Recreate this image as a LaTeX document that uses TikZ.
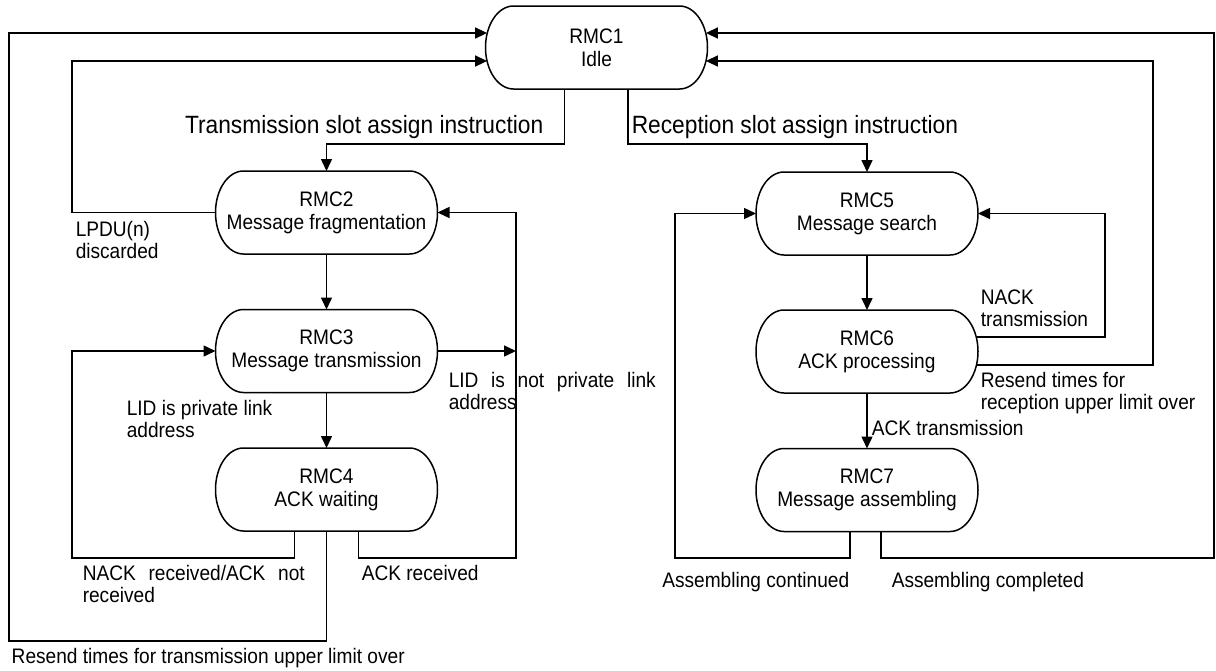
\documentclass[tikz,border=0pt]{standalone}
\usepackage{fontspec}
\setmainfont{Liberation Sans}[FakeStretch=0.91]
\usetikzlibrary{arrows.meta}

\begin{document}
\begin{tikzpicture}[x=0.5pt, y=-0.5pt, line width=0.75pt,
  font=\fontsize{10.5}{11}\selectfont,
  >={Triangle[length=6pt, width=5.5pt]},
  state/.style={minimum width=111pt, minimum height=41.5pt, inner sep=0pt,
    outer sep=0pt, align=center, font=\fontsize{10.5}{11.5}\selectfont},
  lab/.style={inner sep=0pt, align=left},
  big/.style={inner sep=0pt, font=\fontsize{12.5}{14}\selectfont}]

  \useasboundingbox (0,0) rectangle (1216,670);

  % States
  \node[state] (r1) at (596.5,47.5) {RMC1\\Idle};
  \node[state] (r2) at (326.5,212.5) {RMC2\\Message fragmentation};
  \node[state] (r3) at (326.5,351) {RMC3\\Message transmission};
  \node[state] (r4) at (326.5,489.5) {RMC4\\ACK waiting};
  \node[state] (r5) at (867,213.5) {RMC5\\Message search};
  \node[state] (r6) at (867,351.5) {RMC6\\ACK processing};
  \node[state] (r7) at (867,490) {RMC7\\Message assembling};

  % Outlines: flat top and bottom, curved sides
  \foreach \n in {r1,r2,r3,r4,r5,r6,r7}{
    \draw ([xshift=14pt]\n.north west) -- ([xshift=-14pt]\n.north east)
      arc[start angle=90, end angle=-90, x radius=14pt, y radius=20.75pt]
      -- ([xshift=14pt]\n.south west)
      arc[start angle=270, end angle=90, x radius=14pt, y radius=20.75pt]
      -- cycle;
  }

  % Slot assign instructions
  \draw[->] ([xshift=-16pt]r1.south) -- ++(0,55) -| (r2.north);
  \node[big, anchor=base east] (tsa) at (544,133)
    {Transmission slot assign instruction};
  \draw[->] ([xshift=15.75pt]r1.south) -- ++(0,55) -| (r5.north);
  \node[big, anchor=base west] (rsa) at (631,133)
    {Reception slot assign instruction};

  % Transmission side
  \draw[->] (r2.south) -- (r3.north);
  \draw[->] (r3.south) -- (r4.north);
  \draw[->] (r2.west) -| (72,150) |- ([xshift=0.8pt, yshift=-6.75pt]r1.west);
  \node[lab, anchor=base west] (lpdu) at (75,258) {LPDU(n)\\discarded};
  \draw[->] ([xshift=-16pt]r4.south) |- (72,558) |- (r3.west);
  \draw[->] ([xshift=16pt]r4.south) |- (516,558) |- (r2.east);
  \draw[->] (r3.east) -- (516,351);
  \draw[->] (r4.south) |- (9,641) |- ([xshift=0.8pt, yshift=7.25pt]r1.west);
  \node[lab, anchor=base west] (lidp) at (126,437) {LID is private link\\address};
  \node[lab, anchor=base west] (lidn) at (448,409)
    {\makebox[103.5pt][s]{LID is not private link}\\address};
  \node[lab, anchor=base west] (nack) at (82,602)
    {\makebox[111pt][s]{NACK received/ACK not}\\received};
  \node[lab, anchor=base west] (ackr) at (361,580) {ACK received};
  \node[lab, anchor=base west] (rtx) at (11,663)
    {Resend times for transmission upper limit over};

  % Reception side
  \draw[->] (r5.south) -- (r6.north);
  \draw[->] (r6.south) -- (r7.north);
  \node[lab, anchor=base west] (ackt) at (871,435) {ACK transmission};
  \draw[->] ([xshift=-0.9pt, yshift=7.25pt]r6.east) -| (1105,300) |- (r5.east);
  \node[lab, anchor=base west] (nackt) at (980,326) {NACK\\transmission};
  \draw[->] ([xshift=-0.9pt, yshift=-6.75pt]r6.east) -| (1153,300)
    |- ([xshift=-0.8pt, yshift=-6.75pt]r1.east);
  \node[lab, anchor=base west] (rrx) at (980,409)
    {Resend times for\\reception upper limit over};
  \draw[->] ([xshift=-8.5pt]r7.south) |- (675,558) |- (r5.west);
  \draw[->] ([xshift=7pt]r7.south) |- (1214,558)
    |- ([xshift=-0.8pt, yshift=7.25pt]r1.east);
  \node[lab, anchor=base east] (acon) at (850,587) {Assembling continued};
  \node[lab, anchor=base west] (acom) at (891,587) {Assembling completed};
\end{tikzpicture}
\end{document}
